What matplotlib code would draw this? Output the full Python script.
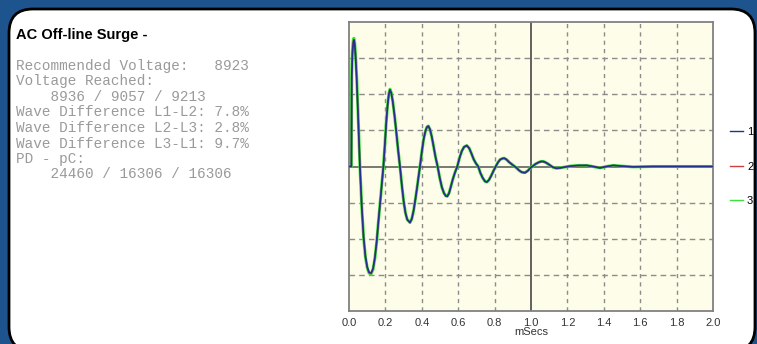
import matplotlib
matplotlib.use("Agg")
import matplotlib.pyplot as plt
from matplotlib.patches import FancyBboxPatch
from matplotlib.transforms import IdentityTransform

# ---------------------------------------------------------------------------
# Data
# ---------------------------------------------------------------------------

time_ms = [0.000, 0.013, 0.015, 0.019, 0.024, 0.027, 0.031, 0.036, 0.042, 0.050,
           0.060, 0.070, 0.080, 0.090, 0.100, 0.110, 0.121, 0.132, 0.142, 0.152,
           0.162, 0.172, 0.180, 0.189, 0.197, 0.205, 0.212, 0.219, 0.225, 0.232,
           0.240, 0.250, 0.260, 0.270, 0.280, 0.290, 0.300, 0.310, 0.320, 0.335,
           0.345, 0.355, 0.365, 0.375, 0.383, 0.390, 0.400, 0.410, 0.420, 0.428,
           0.436, 0.445, 0.455, 0.465, 0.475, 0.487, 0.498, 0.510, 0.522, 0.532,
           0.540, 0.550, 0.560, 0.570, 0.582, 0.595, 0.608, 0.620, 0.632, 0.647,
           0.660, 0.672, 0.685, 0.697, 0.710, 0.722, 0.735, 0.747, 0.757, 0.768,
           0.780, 0.793, 0.806, 0.818, 0.830, 0.842, 0.853, 0.866, 0.880, 0.900,
           0.921, 0.935, 0.950, 0.967, 0.982, 0.995, 1.010, 1.025, 1.040, 1.055,
           1.068, 1.085, 1.100, 1.120, 1.140, 1.160, 1.180, 1.214, 1.260, 1.306,
           1.340, 1.379, 1.415, 1.452, 1.500, 1.560, 1.670, 1.800, 2.000]

wave_l1 = [0.00, 0.00, 2.45, 3.15, 3.45, 3.50, 3.40, 3.05, 2.45, 1.40,
           0.00, -1.10, -1.95, -2.48, -2.78, -2.93, -2.95, -2.83, -2.53, -2.08,
           -1.50, -0.95, -0.50, 0.00, 0.60, 1.24, 1.69, 2.00, 2.12, 2.04,
           1.81, 1.42, 0.95, 0.45, 0.00, -0.50, -0.95, -1.28, -1.47, -1.55,
           -1.45, -1.22, -0.90, -0.55, -0.25, 0.00, 0.40, 0.75, 0.98, 1.09,
           1.12, 1.03, 0.82, 0.55, 0.27, 0.00, -0.30, -0.57, -0.74, -0.82,
           -0.83, -0.74, -0.55, -0.36, -0.17, 0.00, 0.25, 0.43, 0.54, 0.58,
           0.51, 0.37, 0.20, 0.09, 0.00, -0.18, -0.32, -0.41, -0.43, -0.38,
           -0.27, -0.13, 0.00, 0.11, 0.19, 0.22, 0.23, 0.19, 0.12, 0.04,
           -0.04, -0.11, -0.16, -0.17, -0.12, -0.05, 0.01, 0.07, 0.11, 0.14,
           0.14, 0.10, 0.05, -0.02, -0.05, -0.04, -0.02, 0.01, 0.03, 0.03,
           0.00, -0.04, 0.00, 0.03, 0.01, -0.01, 0.00, 0.00, 0.00]

wave_l2 = [0.00, 0.00, 2.52, 3.20, 3.48, 3.52, 3.42, 3.08, 2.48, 1.42,
           0.00, -1.10, -1.95, -2.49, -2.79, -2.94, -2.97, -2.84, -2.54, -2.09,
           -1.50, -0.95, -0.50, 0.00, 0.60, 1.25, 1.70, 2.01, 2.13, 2.05,
           1.82, 1.42, 0.95, 0.45, 0.00, -0.50, -0.95, -1.28, -1.47, -1.56,
           -1.46, -1.22, -0.90, -0.55, -0.25, 0.00, 0.40, 0.75, 0.98, 1.09,
           1.12, 1.03, 0.82, 0.55, 0.27, 0.00, -0.30, -0.57, -0.74, -0.81,
           -0.82, -0.73, -0.55, -0.36, -0.17, 0.00, 0.25, 0.43, 0.54, 0.58,
           0.51, 0.37, 0.20, 0.09, 0.00, -0.18, -0.32, -0.41, -0.44, -0.38,
           -0.27, -0.13, 0.00, 0.11, 0.19, 0.22, 0.23, 0.19, 0.12, 0.04,
           -0.04, -0.11, -0.16, -0.18, -0.12, -0.05, 0.01, 0.07, 0.11, 0.13,
           0.13, 0.10, 0.05, -0.02, -0.05, -0.04, -0.02, 0.01, 0.02, 0.03,
           0.00, -0.03, 0.00, 0.03, 0.01, -0.01, 0.00, 0.00, 0.00]

wave_l3 = [0.00, 0.00, 2.60, 3.25, 3.52, 3.55, 3.45, 3.10, 2.50, 1.45,
           0.00, -1.10, -1.95, -2.50, -2.80, -2.95, -2.98, -2.85, -2.55, -2.10,
           -1.50, -0.95, -0.50, 0.00, 0.60, 1.25, 1.70, 2.02, 2.14, 2.05,
           1.82, 1.42, 0.95, 0.45, 0.00, -0.50, -0.95, -1.28, -1.47, -1.55,
           -1.45, -1.22, -0.90, -0.55, -0.25, 0.00, 0.40, 0.75, 0.98, 1.09,
           1.12, 1.03, 0.82, 0.55, 0.27, 0.00, -0.30, -0.57, -0.74, -0.81,
           -0.82, -0.73, -0.55, -0.36, -0.17, 0.00, 0.25, 0.43, 0.54, 0.58,
           0.51, 0.37, 0.20, 0.09, 0.00, -0.18, -0.32, -0.41, -0.43, -0.38,
           -0.27, -0.13, 0.00, 0.11, 0.19, 0.22, 0.23, 0.19, 0.12, 0.04,
           -0.04, -0.11, -0.16, -0.17, -0.12, -0.05, 0.01, 0.07, 0.11, 0.14,
           0.14, 0.10, 0.05, -0.02, -0.05, -0.04, -0.02, 0.01, 0.03, 0.03,
           0.00, -0.04, 0.00, 0.03, 0.01, -0.01, 0.00, 0.00, 0.00]

series_labels = ["1", "2", "3"]
x_ticks = [0.0, 0.2, 0.4, 0.6, 0.8, 1.0, 1.2, 1.4, 1.6, 1.8, 2.0]

title = "AC Off-line Surge -"
info_lines = [
    "Recommended Voltage:   8923",
    "Voltage Reached:",
    "    8936 / 9057 / 9213",
    "Wave Difference L1-L2: 7.8%",
    "Wave Difference L2-L3: 2.8%",
    "Wave Difference L3-L1: 9.7%",
    "PD - pC:",
    "    24460 / 16306 / 16306",
]

# ---------------------------------------------------------------------------
# Figure
# ---------------------------------------------------------------------------

W, H, DPI = 757, 344, 100
fig = plt.figure(figsize=(W / DPI, H / DPI), dpi=DPI, facecolor="#1e548e")

# white rounded panel (pixel coords, origin bottom-left), kept behind the axes
panel = FancyBboxPatch((9, -7), 746, H - 9 + 7,
                       boxstyle="round,pad=0,rounding_size=24",
                       transform=IdentityTransform(), facecolor="white",
                       edgecolor="black", linewidth=2, zorder=-10)
fig.patches.append(panel)

# left info block
fig.text(16 / W, 1 - 35 / H, title, fontsize=10.5, fontweight="bold",
         family="Liberation Sans", ha="left", va="center", color="black")
for i, line in enumerate(info_lines):
    y_px = 66 + i * 15.5
    fig.text(16 / W, 1 - y_px / H, line, fontsize=10.4,
             family="Liberation Mono", ha="left", va="center", color="#9a9a9a")

# plot area
ax_l, ax_r, ax_t, ax_b = 349, 713, 22, 311
ax = fig.add_axes([ax_l / W, 1 - ax_b / H, (ax_r - ax_l) / W, (ax_b - ax_t) / H])
ax.set_zorder(1)
ax.set_facecolor("#fdfde9")

for y in [-3, -2, -1, 1, 2, 3]:
    ax.axhline(y, color="#8c8c8c", linewidth=1, dashes=(4, 3), zorder=1)
for x in x_ticks[1:-1]:
    if abs(x - 1.0) > 1e-6:
        ax.axvline(x, color="#8c8c8c", linewidth=1, dashes=(3, 3), zorder=1)
ax.axhline(0, color="#555555", linewidth=1.1, zorder=1)
ax.axvline(1.0, color="#555555", linewidth=1.3, zorder=1)

ax.plot(time_ms, wave_l3, color="#3ee03e", linewidth=2.2, label=series_labels[2], zorder=3)
ax.plot(time_ms, wave_l2, color="#d04040", linewidth=1.0, label=series_labels[1], zorder=4)
ax.plot(time_ms, wave_l1, color="#23308f", linewidth=1.2, label=series_labels[0], zorder=5)

ax.set_xlim(0, 2.0)
ax.set_ylim(-4, 4)
ax.set_xticks(x_ticks)
ax.set_xticklabels([f"{t:.1f}" for t in x_ticks], fontsize=8,
                   family="Liberation Sans", color="#333333")
ax.set_yticks([])
ax.tick_params(axis="x", length=0, pad=5)
ax.set_xlabel("mSecs", fontsize=8, family="Liberation Sans", color="#333333",
              labelpad=-1)
for sp in ax.spines.values():
    sp.set_color("#808080")
    sp.set_linewidth(1.3)

handles, labels = ax.get_legend_handles_labels()
order = [2, 1, 0]
leg = ax.legend([handles[i] for i in order], [labels[i] for i in order],
                loc="center left", bbox_to_anchor=(1.02, 0.5), frameon=False,
                handlelength=1.1, handletextpad=0.4, labelspacing=2.2,
                prop={"family": "Liberation Sans", "size": 8})
for line in leg.get_lines():
    line.set_linewidth(1.0)

fig.savefig("out.png", dpi=DPI, facecolor=fig.get_facecolor())
